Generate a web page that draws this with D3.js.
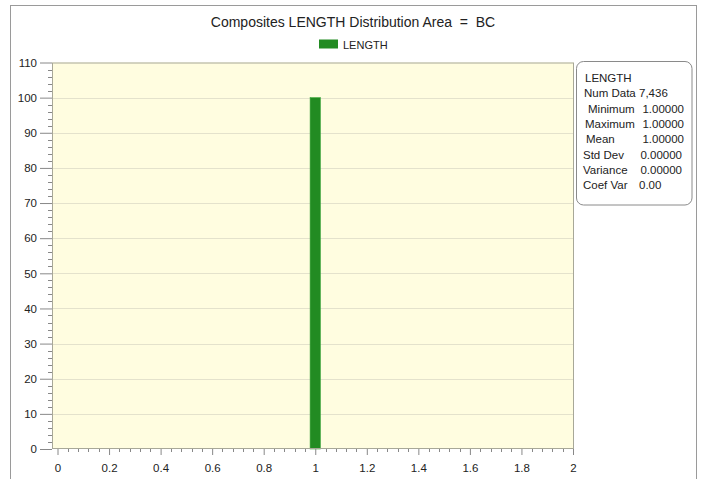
<!DOCTYPE html>
<html><head><meta charset="utf-8">
<script src="https://cdn.jsdelivr.net/npm/d3@7"></script>
<style>
html,body{margin:0;padding:0;background:#fff;}
text{font-family:"Liberation Sans",Arial,sans-serif;}
</style></head>
<body><svg id="c" width="702" height="479"></svg>
<script>
// ---- data ----
const binCenters = [1.0];
const binPercents = [100];
const binWidth = 0.04;
const seriesName = "LENGTH";
const xTicks = [0, 0.2, 0.4, 0.6, 0.8, 1, 1.2, 1.4, 1.6, 1.8, 2];
const yTicks = [0, 10, 20, 30, 40, 50, 60, 70, 80, 90, 100, 110];
const statLabels = ["Num Data", "Minimum", "Maximum", "Mean", "Std Dev", "Variance", "Coef Var"];
const statValues = ["7,436", "1.00000", "1.00000", "1.00000", "0.00000", "0.00000", "0.00"];
const titleText = "Composites LENGTH Distribution Area  =  BC";

// ---- layout ----
const svg = d3.select("#c");
const plot = {l: 52, r: 574, t: 62.5, b: 449};
const x = d3.scaleLinear().domain([0, 2]).range([57.5, 573]);
const y = d3.scaleLinear().domain([0, 110]).range([plot.b, plot.t]);

// outer frame
svg.append("rect").attr("x", 10.5).attr("y", 5.5).attr("width", 686).attr("height", 490)
  .attr("fill", "#fff").attr("stroke", "#9a9a9a");

// title
svg.append("text").attr("x", 353).attr("y", 27).attr("text-anchor", "middle")
  .style("font-size", "14px").style("white-space", "pre").attr("fill", "#222").text(titleText);

// legend
svg.append("rect").attr("x", 319).attr("y", 39.5).attr("width", 19).attr("height", 9).attr("fill", "#228b22");
svg.append("text").attr("x", 343).attr("y", 48.5).style("font-size", "11px").attr("fill", "#222").text(seriesName);

// plot background
svg.append("rect").attr("x", plot.l).attr("y", plot.t).attr("width", plot.r - plot.l).attr("height", plot.b - plot.t)
  .attr("fill", "#fffde0");

// grid
svg.append("g").selectAll("line").data(yTicks.filter(d => d > 0 && d < 110)).join("line")
  .attr("x1", plot.l).attr("x2", plot.r).attr("y1", d => Math.round(y(d)) + 0.5).attr("y2", d => Math.round(y(d)) + 0.5)
  .attr("stroke", "#e4e2cc");

// bars
svg.append("g").selectAll("rect").data(binCenters).join("rect")
  .attr("x", (d) => x(d - binWidth / 2)).attr("width", d => x(d + binWidth / 2) - x(d - binWidth / 2))
  .attr("y", (d, i) => y(binPercents[i])).attr("height", (d, i) => y(0) - y(binPercents[i]))
  .attr("fill", "#228b22").attr("stroke", "#3aa53a").attr("stroke-width", 0.6);

// plot border
svg.append("rect").attr("x", plot.l + 0.5).attr("y", plot.t + 0.5).attr("width", plot.r - plot.l - 1).attr("height", plot.b - plot.t - 1)
  .attr("fill", "none").attr("stroke", "#a8a898");

// y axis
const yAxis = d3.axisLeft(y).tickValues(yTicks).tickSize(12).tickPadding(3).tickFormat(d3.format("d"));
const gy = svg.append("g").attr("transform", `translate(${plot.l},0)`).call(yAxis);
gy.select(".domain").remove();
gy.selectAll(".tick line").attr("stroke", "#888");
gy.selectAll(".tick text").attr("fill", "#222").style("font-size", "11.5px").style("font-family", "Liberation Sans, Arial, sans-serif");
const yMinor = d3.range(0, 110.01, 2).filter(v => v % 10 !== 0);
svg.append("g").selectAll("line").data(yMinor).join("line")
  .attr("x1", plot.l - 4).attr("x2", plot.l).attr("y1", d => Math.round(y(d)) + 0.5).attr("y2", d => Math.round(y(d)) + 0.5)
  .attr("stroke", "#888");

// x axis
const xAxis = d3.axisBottom(x).tickValues(xTicks).tickSize(6).tickPadding(9).tickFormat(d => d3.format("")(+d.toFixed(1)));
const gx = svg.append("g").attr("transform", `translate(0,${plot.b})`).call(xAxis);
gx.select(".domain").remove();
gx.selectAll(".tick line").attr("stroke", "#888");
gx.selectAll(".tick text").attr("fill", "#222").style("font-size", "11.5px").style("font-family", "Liberation Sans, Arial, sans-serif");
const xMinor = d3.range(1, 50).map(i => i * 0.04).filter(v => Math.abs(v * 5 - Math.round(v * 5)) > 1e-6);
svg.append("g").selectAll("line").data(xMinor).join("line")
  .attr("x1", d => Math.round(x(d)) + 0.5).attr("x2", d => Math.round(x(d)) + 0.5).attr("y1", plot.b).attr("y2", plot.b + 3)
  .attr("stroke", "#888");

// stats box
const sb = svg.append("g");
sb.append("rect").attr("x", 576.5).attr("y", 61.5).attr("width", 115.5).attr("height", 143.5).attr("rx", 7)
  .attr("fill", "#fff").attr("stroke", "#8a8a8a");
sb.append("text").attr("x", 585).attr("y", 82).style("font-size", "11.5px").attr("fill", "#222").text(seriesName);
const lineY = i => 97.3 + i * 15.3;
const labelX = [584, 588, 585, 586, 583, 583, 583];
const valueX = [639, 684, 684, 684, 682, 682, 639];
const valueAnchor = ["start", "end", "end", "end", "end", "end", "start"];
sb.selectAll("text.lab").data(statLabels).join("text").attr("class", "lab")
  .attr("x", (d, i) => labelX[i]).attr("y", (d, i) => lineY(i)).style("font-size", "11.5px").attr("fill", "#222").text(d => d);
sb.selectAll("text.val").data(statValues).join("text").attr("class", "val")
  .attr("x", (d, i) => valueX[i]).attr("y", (d, i) => lineY(i)).attr("text-anchor", (d, i) => valueAnchor[i])
  .style("font-size", "11.5px").attr("fill", "#222").text(d => d);
</script></body></html>
